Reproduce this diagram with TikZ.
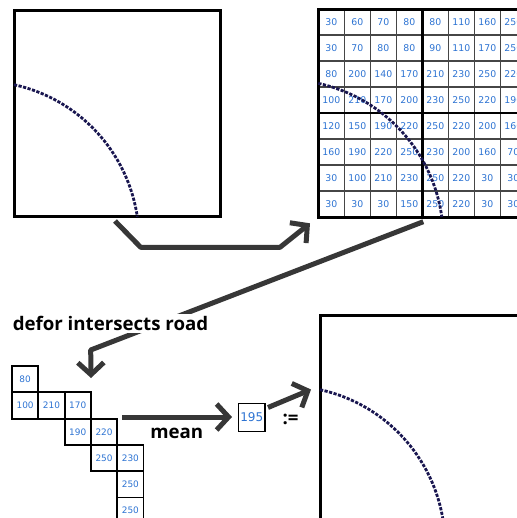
\documentclass[tikz,border=0pt]{standalone}
\usepackage{fontspec}
\setmainfont{DejaVu Sans}
\newfontfamily\labelfont{Open Sans}
\usetikzlibrary{arrows.meta,backgrounds}
\newdimen\pxu \pxu=0.75pt
\definecolor{numblue}{RGB}{45,115,210}
\definecolor{roadnavy}{RGB}{25,22,80}
\definecolor{arrowgray}{RGB}{55,55,55}
\definecolor{gridgray}{RGB}{70,70,70}
\begin{document}
\begin{tikzpicture}[x=0.75pt,y=-0.75pt,
  bigbox/.style={draw=black, line width=3\pxu, inner sep=0pt, outer sep=0pt, anchor=north west},
  road/.style={draw=roadnavy, line width=2.8\pxu, dash pattern=on 2.4pt off 1.1pt},
  flow/.style={draw=arrowgray, line width=5\pxu, line join=round, -{Straight Barb[length=9pt,width=19.5pt]}},
  gcell/.style={draw=gridgray, line width=1.5\pxu, minimum size=26\pxu, inner sep=0pt, outer sep=0pt, anchor=north west, text=numblue, font=\fontsize{7pt}{8pt}\selectfont},
  scell/.style={draw=black, line width=1.8\pxu, minimum size=26.3\pxu, inner sep=0pt, outer sep=0pt, anchor=north west, text=numblue, font=\fontsize{6.7pt}{8pt}\selectfont},
  lbl/.style={font=\labelfont\bfseries\fontsize{14pt}{16pt}\selectfont, inner sep=2\pxu}
]
\useasboundingbox (0,0) rectangle (517,518);
\clip (0,0) rectangle (517,518);

% --- top-left map
\node[bigbox, minimum width=206\pxu, minimum height=206.4\pxu] (box1) at (14,10.3) {};
\draw[road] (-20,240) ++(-77.65:159) arc[start angle=-77.65, end angle=-8.4, radius=159];

% --- top-right grid
\foreach \row [count=\r] in {
  {30,60,70,80,80,110,160,250},
  {30,70,80,80,90,110,170,250},
  {80,200,140,170,210,230,250,220},
  {100,210,170,200,230,250,220,190},
  {120,150,190,220,250,220,200,160},
  {160,190,220,250,230,200,160,70},
  {30,100,210,230,250,220,30,30},
  {30,30,30,150,250,220,30,30}}{
  \foreach \v [count=\c] in \row {
    \node[gcell] (g-\r-\c) at ({318.3+26*(\c-1)},{9+26*(\r-1)}) {\v};
  }
}
\node[bigbox, minimum width=208\pxu, minimum height=208\pxu] (grid) at (318.3,9) {};
\draw[black, line width=2.4\pxu] (g-1-5.north west) -- (g-8-5.south west);
\draw[black, line width=2.4\pxu] (g-5-1.north west) -- (g-5-8.north east);
\draw[road] (284.3,238.7) ++(-77.65:159) arc[start angle=-77.65, end angle=-7.85, radius=159];

% --- bottom-right map
\node[bigbox, minimum width=206\pxu, minimum height=206.4\pxu] (box3) at (320,315.3) {};
\draw[road] (286,545) ++(-77.65:159) arc[start angle=-77.65, end angle=-8.5, radius=159];

% --- staircase of selected cells
\node[scell] (s80)  at (12,366)    {80};
\node[scell] (s100) at (12,392.3)  {100};
\node[scell] (s210) at (38.3,392.3) {210};
\node[scell] (s170) at (64.6,392.3) {170};
\node[scell] (s190) at (64.6,418.6) {190};
\node[scell] (s220) at (90.9,418.6) {220};
\node[scell] (s250a) at (90.9,444.9) {250};
\node[scell] (s230) at (117.2,444.9) {230};
\node[scell] (s250b) at (117.2,471.2) {250};
\node[scell] (s250c) at (117.2,497.5) {250};

% --- mean result
\node[draw=black, line width=1.5\pxu, minimum width=26.7\pxu, minimum height=28.4\pxu, inner sep=0pt, text=numblue, font=\fontsize{9pt}{10pt}\selectfont] (res) at (251.7,417.5) {195};

% --- labels
\node[lbl, fill=white, anchor=base] (lblint) at (110.5,330.7) {defor intersects road};
\node[lbl, anchor=base] (lblmean) at (176.7,438.3) {mean};
\node[lbl, anchor=base] (lblassign) at (290.5,424) {:=};

% --- connectors
\coordinate (a1s) at (115,221);
\coordinate (a1b) at (140.7,247.3);
\coordinate (a1c) at (280,247.3);
\coordinate (a1e) at (310,223.3);
\coordinate (a2s) at (423.3,221.7);
\coordinate (a2b) at (90.7,350);
\coordinate (a2e) at (91,378);
\coordinate (a3s) at (122,417);
\coordinate (a3e) at (232,417);
\coordinate (a4s) at (268,407.5);
\coordinate (a4e) at (311,389.5);
\begin{scope}[on background layer]
  \draw[flow] (a1s) -- (a1b) -- (a1c) -- (a1e);
  \draw[flow] (a2s) -- (a2b) -- (a2e);
  \draw[flow] (a3s) -- (a3e);
  \draw[flow] (a4s) -- (a4e);
\end{scope}
\end{tikzpicture}
\end{document}
